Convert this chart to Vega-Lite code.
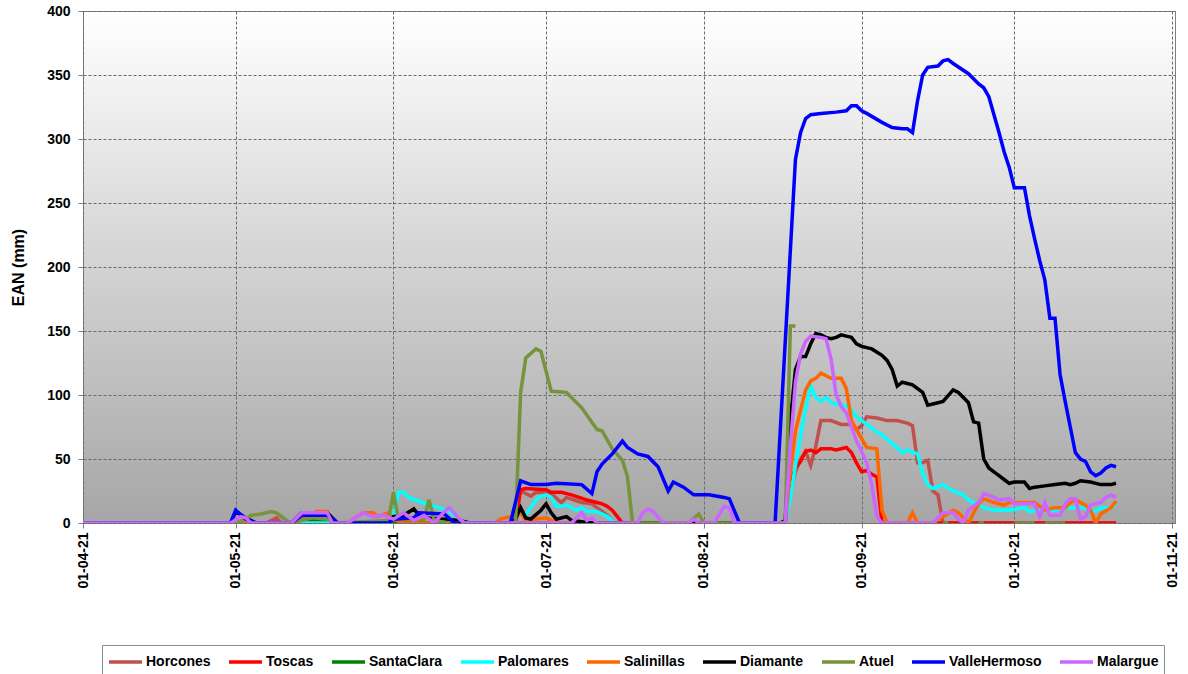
{
  "$schema": "https://vega.github.io/schema/vega-lite/v6.json",
  "width": 1092,
  "height": 512,
  "autosize": "none",
  "padding": {"left": 83, "top": 11, "right": 13, "bottom": 151},
  "background": "#ffffff",
  "datasets": {
    "ean": [
      {"s": "Horcones", "d": "2021-04-01", "v": 0}, {"s": "Horcones", "d": "2021-05-07", "v": 0}, {"s": "Horcones", "d": "2021-05-09", "v": 4}, {"s": "Horcones", "d": "2021-05-10", "v": 0},
      {"s": "Horcones", "d": "2021-06-24", "v": 0}, {"s": "Horcones", "d": "2021-06-25", "v": 15}, {"s": "Horcones", "d": "2021-06-26", "v": 25}, {"s": "Horcones", "d": "2021-06-27", "v": 23},
      {"s": "Horcones", "d": "2021-06-28", "v": 21}, {"s": "Horcones", "d": "2021-06-29", "v": 24}, {"s": "Horcones", "d": "2021-07-02", "v": 23}, {"s": "Horcones", "d": "2021-07-04", "v": 16},
      {"s": "Horcones", "d": "2021-07-05", "v": 20}, {"s": "Horcones", "d": "2021-07-08", "v": 16}, {"s": "Horcones", "d": "2021-07-10", "v": 15}, {"s": "Horcones", "d": "2021-07-11", "v": 12},
      {"s": "Horcones", "d": "2021-07-12", "v": 9}, {"s": "Horcones", "d": "2021-07-13", "v": 6}, {"s": "Horcones", "d": "2021-07-14", "v": 2}, {"s": "Horcones", "d": "2021-07-15", "v": 0},
      {"s": "Horcones", "d": "2021-08-17", "v": 0}, {"s": "Horcones", "d": "2021-08-18", "v": 25}, {"s": "Horcones", "d": "2021-08-19", "v": 40}, {"s": "Horcones", "d": "2021-08-20", "v": 50},
      {"s": "Horcones", "d": "2021-08-21", "v": 56}, {"s": "Horcones", "d": "2021-08-22", "v": 45}, {"s": "Horcones", "d": "2021-08-23", "v": 60}, {"s": "Horcones", "d": "2021-08-24", "v": 80},
      {"s": "Horcones", "d": "2021-08-26", "v": 80}, {"s": "Horcones", "d": "2021-08-28", "v": 77}, {"s": "Horcones", "d": "2021-08-30", "v": 77}, {"s": "Horcones", "d": "2021-08-31", "v": 73},
      {"s": "Horcones", "d": "2021-09-01", "v": 76}, {"s": "Horcones", "d": "2021-09-02", "v": 83}, {"s": "Horcones", "d": "2021-09-04", "v": 82}, {"s": "Horcones", "d": "2021-09-06", "v": 80},
      {"s": "Horcones", "d": "2021-09-08", "v": 80}, {"s": "Horcones", "d": "2021-09-09", "v": 79}, {"s": "Horcones", "d": "2021-09-10", "v": 78}, {"s": "Horcones", "d": "2021-09-11", "v": 76},
      {"s": "Horcones", "d": "2021-09-12", "v": 47}, {"s": "Horcones", "d": "2021-09-13", "v": 47}, {"s": "Horcones", "d": "2021-09-14", "v": 49}, {"s": "Horcones", "d": "2021-09-15", "v": 25},
      {"s": "Horcones", "d": "2021-09-16", "v": 22}, {"s": "Horcones", "d": "2021-09-17", "v": 0}, {"s": "Horcones", "d": "2021-10-21", "v": 0},

      {"s": "Toscas", "d": "2021-04-01", "v": 0}, {"s": "Toscas", "d": "2021-06-25", "v": 0}, {"s": "Toscas", "d": "2021-06-26", "v": 26}, {"s": "Toscas", "d": "2021-06-27", "v": 27},
      {"s": "Toscas", "d": "2021-07-01", "v": 26}, {"s": "Toscas", "d": "2021-07-02", "v": 24}, {"s": "Toscas", "d": "2021-07-04", "v": 24}, {"s": "Toscas", "d": "2021-07-06", "v": 22},
      {"s": "Toscas", "d": "2021-07-09", "v": 18}, {"s": "Toscas", "d": "2021-07-11", "v": 16}, {"s": "Toscas", "d": "2021-07-12", "v": 15}, {"s": "Toscas", "d": "2021-07-13", "v": 13},
      {"s": "Toscas", "d": "2021-07-14", "v": 10}, {"s": "Toscas", "d": "2021-07-15", "v": 5}, {"s": "Toscas", "d": "2021-07-16", "v": 0}, {"s": "Toscas", "d": "2021-08-17", "v": 0},
      {"s": "Toscas", "d": "2021-08-18", "v": 30}, {"s": "Toscas", "d": "2021-08-19", "v": 43}, {"s": "Toscas", "d": "2021-08-20", "v": 48}, {"s": "Toscas", "d": "2021-08-21", "v": 56},
      {"s": "Toscas", "d": "2021-08-22", "v": 57}, {"s": "Toscas", "d": "2021-08-23", "v": 55}, {"s": "Toscas", "d": "2021-08-24", "v": 58}, {"s": "Toscas", "d": "2021-08-26", "v": 58},
      {"s": "Toscas", "d": "2021-08-27", "v": 57}, {"s": "Toscas", "d": "2021-08-28", "v": 58}, {"s": "Toscas", "d": "2021-08-29", "v": 59}, {"s": "Toscas", "d": "2021-08-30", "v": 55},
      {"s": "Toscas", "d": "2021-08-31", "v": 47}, {"s": "Toscas", "d": "2021-09-01", "v": 40}, {"s": "Toscas", "d": "2021-09-02", "v": 41}, {"s": "Toscas", "d": "2021-09-03", "v": 38},
      {"s": "Toscas", "d": "2021-09-04", "v": 36}, {"s": "Toscas", "d": "2021-09-05", "v": 0}, {"s": "Toscas", "d": "2021-10-21", "v": 0},

      {"s": "SantaClara", "d": "2021-04-01", "v": 0}, {"s": "SantaClara", "d": "2021-05-12", "v": 0}, {"s": "SantaClara", "d": "2021-05-14", "v": 3}, {"s": "SantaClara", "d": "2021-05-17", "v": 3},
      {"s": "SantaClara", "d": "2021-05-19", "v": 2}, {"s": "SantaClara", "d": "2021-05-21", "v": 0}, {"s": "SantaClara", "d": "2021-08-15", "v": 0},

      {"s": "Palomares", "d": "2021-04-01", "v": 0}, {"s": "Palomares", "d": "2021-05-31", "v": 0}, {"s": "Palomares", "d": "2021-06-01", "v": 5}, {"s": "Palomares", "d": "2021-06-02", "v": 24},
      {"s": "Palomares", "d": "2021-06-03", "v": 24}, {"s": "Palomares", "d": "2021-06-04", "v": 20}, {"s": "Palomares", "d": "2021-06-06", "v": 17}, {"s": "Palomares", "d": "2021-06-08", "v": 14},
      {"s": "Palomares", "d": "2021-06-10", "v": 12}, {"s": "Palomares", "d": "2021-06-12", "v": 9}, {"s": "Palomares", "d": "2021-06-13", "v": 6}, {"s": "Palomares", "d": "2021-06-14", "v": 2},
      {"s": "Palomares", "d": "2021-06-15", "v": 0}, {"s": "Palomares", "d": "2021-06-24", "v": 0}, {"s": "Palomares", "d": "2021-06-25", "v": 8}, {"s": "Palomares", "d": "2021-06-27", "v": 6},
      {"s": "Palomares", "d": "2021-06-28", "v": 12}, {"s": "Palomares", "d": "2021-06-29", "v": 18}, {"s": "Palomares", "d": "2021-06-30", "v": 21}, {"s": "Palomares", "d": "2021-07-01", "v": 22},
      {"s": "Palomares", "d": "2021-07-02", "v": 20}, {"s": "Palomares", "d": "2021-07-03", "v": 13}, {"s": "Palomares", "d": "2021-07-04", "v": 13}, {"s": "Palomares", "d": "2021-07-05", "v": 14},
      {"s": "Palomares", "d": "2021-07-06", "v": 12}, {"s": "Palomares", "d": "2021-07-07", "v": 10}, {"s": "Palomares", "d": "2021-07-08", "v": 12}, {"s": "Palomares", "d": "2021-07-09", "v": 9},
      {"s": "Palomares", "d": "2021-07-11", "v": 9}, {"s": "Palomares", "d": "2021-07-13", "v": 5}, {"s": "Palomares", "d": "2021-07-14", "v": 2}, {"s": "Palomares", "d": "2021-07-15", "v": 0},
      {"s": "Palomares", "d": "2021-08-17", "v": 0}, {"s": "Palomares", "d": "2021-08-18", "v": 20}, {"s": "Palomares", "d": "2021-08-19", "v": 45}, {"s": "Palomares", "d": "2021-08-20", "v": 68},
      {"s": "Palomares", "d": "2021-08-21", "v": 90}, {"s": "Palomares", "d": "2021-08-22", "v": 107}, {"s": "Palomares", "d": "2021-08-23", "v": 98}, {"s": "Palomares", "d": "2021-08-24", "v": 95},
      {"s": "Palomares", "d": "2021-08-25", "v": 98}, {"s": "Palomares", "d": "2021-08-26", "v": 94}, {"s": "Palomares", "d": "2021-08-28", "v": 92}, {"s": "Palomares", "d": "2021-08-29", "v": 92},
      {"s": "Palomares", "d": "2021-08-30", "v": 88}, {"s": "Palomares", "d": "2021-08-31", "v": 83}, {"s": "Palomares", "d": "2021-09-02", "v": 77}, {"s": "Palomares", "d": "2021-09-04", "v": 71},
      {"s": "Palomares", "d": "2021-09-05", "v": 69}, {"s": "Palomares", "d": "2021-09-07", "v": 62}, {"s": "Palomares", "d": "2021-09-09", "v": 55}, {"s": "Palomares", "d": "2021-09-10", "v": 57},
      {"s": "Palomares", "d": "2021-09-12", "v": 54}, {"s": "Palomares", "d": "2021-09-13", "v": 39}, {"s": "Palomares", "d": "2021-09-14", "v": 30}, {"s": "Palomares", "d": "2021-09-15", "v": 27},
      {"s": "Palomares", "d": "2021-09-17", "v": 30}, {"s": "Palomares", "d": "2021-09-19", "v": 25}, {"s": "Palomares", "d": "2021-09-21", "v": 22}, {"s": "Palomares", "d": "2021-09-22", "v": 18},
      {"s": "Palomares", "d": "2021-09-23", "v": 16}, {"s": "Palomares", "d": "2021-09-25", "v": 12}, {"s": "Palomares", "d": "2021-09-27", "v": 10}, {"s": "Palomares", "d": "2021-09-30", "v": 10},
      {"s": "Palomares", "d": "2021-10-03", "v": 12}, {"s": "Palomares", "d": "2021-10-04", "v": 9}, {"s": "Palomares", "d": "2021-10-06", "v": 10}, {"s": "Palomares", "d": "2021-10-09", "v": 10},
      {"s": "Palomares", "d": "2021-10-11", "v": 12}, {"s": "Palomares", "d": "2021-10-13", "v": 12}, {"s": "Palomares", "d": "2021-10-15", "v": 12}, {"s": "Palomares", "d": "2021-10-16", "v": 8},
      {"s": "Palomares", "d": "2021-10-18", "v": 12}, {"s": "Palomares", "d": "2021-10-20", "v": 12}, {"s": "Palomares", "d": "2021-10-21", "v": 15},

      {"s": "Salinillas", "d": "2021-04-01", "v": 0}, {"s": "Salinillas", "d": "2021-05-12", "v": 0}, {"s": "Salinillas", "d": "2021-05-14", "v": 5}, {"s": "Salinillas", "d": "2021-05-17", "v": 9},
      {"s": "Salinillas", "d": "2021-05-19", "v": 9}, {"s": "Salinillas", "d": "2021-05-20", "v": 0}, {"s": "Salinillas", "d": "2021-05-23", "v": 0}, {"s": "Salinillas", "d": "2021-05-26", "v": 8},
      {"s": "Salinillas", "d": "2021-05-28", "v": 8}, {"s": "Salinillas", "d": "2021-05-29", "v": 5}, {"s": "Salinillas", "d": "2021-05-31", "v": 8}, {"s": "Salinillas", "d": "2021-06-01", "v": 3},
      {"s": "Salinillas", "d": "2021-06-03", "v": 0}, {"s": "Salinillas", "d": "2021-06-21", "v": 0}, {"s": "Salinillas", "d": "2021-06-22", "v": 3}, {"s": "Salinillas", "d": "2021-06-25", "v": 6},
      {"s": "Salinillas", "d": "2021-06-26", "v": 8}, {"s": "Salinillas", "d": "2021-06-27", "v": 2}, {"s": "Salinillas", "d": "2021-07-01", "v": 4}, {"s": "Salinillas", "d": "2021-07-03", "v": 0},
      {"s": "Salinillas", "d": "2021-08-17", "v": 0}, {"s": "Salinillas", "d": "2021-08-18", "v": 40}, {"s": "Salinillas", "d": "2021-08-19", "v": 72}, {"s": "Salinillas", "d": "2021-08-20", "v": 88},
      {"s": "Salinillas", "d": "2021-08-21", "v": 104}, {"s": "Salinillas", "d": "2021-08-22", "v": 111}, {"s": "Salinillas", "d": "2021-08-23", "v": 113}, {"s": "Salinillas", "d": "2021-08-24", "v": 117},
      {"s": "Salinillas", "d": "2021-08-25", "v": 115}, {"s": "Salinillas", "d": "2021-08-26", "v": 113}, {"s": "Salinillas", "d": "2021-08-28", "v": 113}, {"s": "Salinillas", "d": "2021-08-29", "v": 105},
      {"s": "Salinillas", "d": "2021-08-30", "v": 80}, {"s": "Salinillas", "d": "2021-08-31", "v": 73}, {"s": "Salinillas", "d": "2021-09-01", "v": 66}, {"s": "Salinillas", "d": "2021-09-02", "v": 59},
      {"s": "Salinillas", "d": "2021-09-04", "v": 58}, {"s": "Salinillas", "d": "2021-09-05", "v": 10}, {"s": "Salinillas", "d": "2021-09-06", "v": 0}, {"s": "Salinillas", "d": "2021-09-10", "v": 0},
      {"s": "Salinillas", "d": "2021-09-11", "v": 8}, {"s": "Salinillas", "d": "2021-09-12", "v": 0}, {"s": "Salinillas", "d": "2021-09-15", "v": 0}, {"s": "Salinillas", "d": "2021-09-17", "v": 5},
      {"s": "Salinillas", "d": "2021-09-19", "v": 10}, {"s": "Salinillas", "d": "2021-09-20", "v": 8}, {"s": "Salinillas", "d": "2021-09-22", "v": 0}, {"s": "Salinillas", "d": "2021-09-23", "v": 8},
      {"s": "Salinillas", "d": "2021-09-24", "v": 15}, {"s": "Salinillas", "d": "2021-09-25", "v": 19}, {"s": "Salinillas", "d": "2021-09-27", "v": 16}, {"s": "Salinillas", "d": "2021-09-29", "v": 14},
      {"s": "Salinillas", "d": "2021-09-30", "v": 16}, {"s": "Salinillas", "d": "2021-10-05", "v": 16}, {"s": "Salinillas", "d": "2021-10-07", "v": 10}, {"s": "Salinillas", "d": "2021-10-09", "v": 12},
      {"s": "Salinillas", "d": "2021-10-11", "v": 12}, {"s": "Salinillas", "d": "2021-10-12", "v": 16}, {"s": "Salinillas", "d": "2021-10-13", "v": 18}, {"s": "Salinillas", "d": "2021-10-14", "v": 16},
      {"s": "Salinillas", "d": "2021-10-15", "v": 14}, {"s": "Salinillas", "d": "2021-10-16", "v": 10}, {"s": "Salinillas", "d": "2021-10-17", "v": 0}, {"s": "Salinillas", "d": "2021-10-18", "v": 7},
      {"s": "Salinillas", "d": "2021-10-20", "v": 12}, {"s": "Salinillas", "d": "2021-10-21", "v": 17},

      {"s": "Diamante", "d": "2021-04-01", "v": 0}, {"s": "Diamante", "d": "2021-04-30", "v": 0}, {"s": "Diamante", "d": "2021-05-01", "v": 9}, {"s": "Diamante", "d": "2021-05-03", "v": 4},
      {"s": "Diamante", "d": "2021-05-05", "v": 0}, {"s": "Diamante", "d": "2021-05-12", "v": 0}, {"s": "Diamante", "d": "2021-05-14", "v": 8}, {"s": "Diamante", "d": "2021-05-19", "v": 8},
      {"s": "Diamante", "d": "2021-05-21", "v": 0}, {"s": "Diamante", "d": "2021-05-31", "v": 0}, {"s": "Diamante", "d": "2021-06-01", "v": 5}, {"s": "Diamante", "d": "2021-06-03", "v": 6},
      {"s": "Diamante", "d": "2021-06-05", "v": 11}, {"s": "Diamante", "d": "2021-06-06", "v": 6}, {"s": "Diamante", "d": "2021-06-08", "v": 4}, {"s": "Diamante", "d": "2021-06-14", "v": 2},
      {"s": "Diamante", "d": "2021-06-16", "v": 0}, {"s": "Diamante", "d": "2021-06-24", "v": 0}, {"s": "Diamante", "d": "2021-06-25", "v": 3}, {"s": "Diamante", "d": "2021-06-26", "v": 12},
      {"s": "Diamante", "d": "2021-06-27", "v": 4}, {"s": "Diamante", "d": "2021-06-28", "v": 3}, {"s": "Diamante", "d": "2021-06-30", "v": 10}, {"s": "Diamante", "d": "2021-07-01", "v": 15},
      {"s": "Diamante", "d": "2021-07-02", "v": 8}, {"s": "Diamante", "d": "2021-07-03", "v": 3}, {"s": "Diamante", "d": "2021-07-05", "v": 5}, {"s": "Diamante", "d": "2021-07-06", "v": 2},
      {"s": "Diamante", "d": "2021-07-08", "v": 1}, {"s": "Diamante", "d": "2021-07-10", "v": 0}, {"s": "Diamante", "d": "2021-08-16", "v": 0}, {"s": "Diamante", "d": "2021-08-17", "v": 2},
      {"s": "Diamante", "d": "2021-08-18", "v": 80}, {"s": "Diamante", "d": "2021-08-19", "v": 120}, {"s": "Diamante", "d": "2021-08-20", "v": 130}, {"s": "Diamante", "d": "2021-08-21", "v": 130},
      {"s": "Diamante", "d": "2021-08-22", "v": 140}, {"s": "Diamante", "d": "2021-08-23", "v": 148}, {"s": "Diamante", "d": "2021-08-24", "v": 147}, {"s": "Diamante", "d": "2021-08-25", "v": 145},
      {"s": "Diamante", "d": "2021-08-26", "v": 144}, {"s": "Diamante", "d": "2021-08-27", "v": 145}, {"s": "Diamante", "d": "2021-08-28", "v": 147}, {"s": "Diamante", "d": "2021-08-29", "v": 146},
      {"s": "Diamante", "d": "2021-08-30", "v": 145}, {"s": "Diamante", "d": "2021-08-31", "v": 140}, {"s": "Diamante", "d": "2021-09-01", "v": 138}, {"s": "Diamante", "d": "2021-09-03", "v": 136},
      {"s": "Diamante", "d": "2021-09-05", "v": 131}, {"s": "Diamante", "d": "2021-09-06", "v": 127}, {"s": "Diamante", "d": "2021-09-07", "v": 120}, {"s": "Diamante", "d": "2021-09-08", "v": 107},
      {"s": "Diamante", "d": "2021-09-09", "v": 110}, {"s": "Diamante", "d": "2021-09-11", "v": 108}, {"s": "Diamante", "d": "2021-09-13", "v": 102}, {"s": "Diamante", "d": "2021-09-14", "v": 92},
      {"s": "Diamante", "d": "2021-09-15", "v": 93}, {"s": "Diamante", "d": "2021-09-17", "v": 95}, {"s": "Diamante", "d": "2021-09-19", "v": 104}, {"s": "Diamante", "d": "2021-09-20", "v": 102},
      {"s": "Diamante", "d": "2021-09-21", "v": 98}, {"s": "Diamante", "d": "2021-09-22", "v": 94}, {"s": "Diamante", "d": "2021-09-23", "v": 79}, {"s": "Diamante", "d": "2021-09-24", "v": 78},
      {"s": "Diamante", "d": "2021-09-25", "v": 50}, {"s": "Diamante", "d": "2021-09-26", "v": 43}, {"s": "Diamante", "d": "2021-09-27", "v": 40}, {"s": "Diamante", "d": "2021-09-28", "v": 37},
      {"s": "Diamante", "d": "2021-09-29", "v": 34}, {"s": "Diamante", "d": "2021-09-30", "v": 31}, {"s": "Diamante", "d": "2021-10-01", "v": 32}, {"s": "Diamante", "d": "2021-10-03", "v": 32},
      {"s": "Diamante", "d": "2021-10-04", "v": 27}, {"s": "Diamante", "d": "2021-10-05", "v": 28}, {"s": "Diamante", "d": "2021-10-07", "v": 29}, {"s": "Diamante", "d": "2021-10-09", "v": 30},
      {"s": "Diamante", "d": "2021-10-11", "v": 31}, {"s": "Diamante", "d": "2021-10-12", "v": 30}, {"s": "Diamante", "d": "2021-10-13", "v": 31}, {"s": "Diamante", "d": "2021-10-14", "v": 33},
      {"s": "Diamante", "d": "2021-10-16", "v": 32}, {"s": "Diamante", "d": "2021-10-18", "v": 30}, {"s": "Diamante", "d": "2021-10-20", "v": 30}, {"s": "Diamante", "d": "2021-10-21", "v": 31},

      {"s": "Atuel", "d": "2021-04-01", "v": 0}, {"s": "Atuel", "d": "2021-05-01", "v": 0}, {"s": "Atuel", "d": "2021-05-03", "v": 3}, {"s": "Atuel", "d": "2021-05-04", "v": 6},
      {"s": "Atuel", "d": "2021-05-06", "v": 7}, {"s": "Atuel", "d": "2021-05-08", "v": 9}, {"s": "Atuel", "d": "2021-05-09", "v": 8}, {"s": "Atuel", "d": "2021-05-11", "v": 2},
      {"s": "Atuel", "d": "2021-05-12", "v": 0}, {"s": "Atuel", "d": "2021-05-16", "v": 4}, {"s": "Atuel", "d": "2021-05-19", "v": 3}, {"s": "Atuel", "d": "2021-05-21", "v": 0},
      {"s": "Atuel", "d": "2021-05-31", "v": 2}, {"s": "Atuel", "d": "2021-06-01", "v": 24}, {"s": "Atuel", "d": "2021-06-02", "v": 3}, {"s": "Atuel", "d": "2021-06-07", "v": 3},
      {"s": "Atuel", "d": "2021-06-08", "v": 18}, {"s": "Atuel", "d": "2021-06-09", "v": 2}, {"s": "Atuel", "d": "2021-06-12", "v": 0}, {"s": "Atuel", "d": "2021-06-25", "v": 0},
      {"s": "Atuel", "d": "2021-06-26", "v": 102}, {"s": "Atuel", "d": "2021-06-27", "v": 129}, {"s": "Atuel", "d": "2021-06-29", "v": 136}, {"s": "Atuel", "d": "2021-06-30", "v": 134},
      {"s": "Atuel", "d": "2021-07-02", "v": 103}, {"s": "Atuel", "d": "2021-07-05", "v": 102}, {"s": "Atuel", "d": "2021-07-08", "v": 90}, {"s": "Atuel", "d": "2021-07-11", "v": 73},
      {"s": "Atuel", "d": "2021-07-12", "v": 72}, {"s": "Atuel", "d": "2021-07-14", "v": 58}, {"s": "Atuel", "d": "2021-07-16", "v": 49}, {"s": "Atuel", "d": "2021-07-17", "v": 36},
      {"s": "Atuel", "d": "2021-07-18", "v": 0}, {"s": "Atuel", "d": "2021-07-29", "v": 0}, {"s": "Atuel", "d": "2021-07-31", "v": 7}, {"s": "Atuel", "d": "2021-08-01", "v": 0},
      {"s": "Atuel", "d": "2021-08-17", "v": 0}, {"s": "Atuel", "d": "2021-08-18", "v": 154}, {"s": "Atuel", "d": "2021-08-19", "v": 154}, {"s": "Atuel", "d": "2021-08-20", "v": null},
      {"s": "Atuel", "d": "2021-09-17", "v": 0}, {"s": "Atuel", "d": "2021-09-18", "v": 0}, {"s": "Atuel", "d": "2021-09-19", "v": null}, {"s": "Atuel", "d": "2021-09-24", "v": 0},
      {"s": "Atuel", "d": "2021-09-25", "v": 0}, {"s": "Atuel", "d": "2021-09-26", "v": null}, {"s": "Atuel", "d": "2021-10-01", "v": 0}, {"s": "Atuel", "d": "2021-10-05", "v": 0},
      {"s": "Atuel", "d": "2021-10-06", "v": null}, {"s": "Atuel", "d": "2021-10-07", "v": 0}, {"s": "Atuel", "d": "2021-10-11", "v": 0},

      {"s": "ValleHermoso", "d": "2021-04-01", "v": 0}, {"s": "ValleHermoso", "d": "2021-04-30", "v": 0}, {"s": "ValleHermoso", "d": "2021-05-01", "v": 10}, {"s": "ValleHermoso", "d": "2021-05-03", "v": 3},
      {"s": "ValleHermoso", "d": "2021-05-05", "v": 0}, {"s": "ValleHermoso", "d": "2021-05-12", "v": 0}, {"s": "ValleHermoso", "d": "2021-05-14", "v": 6}, {"s": "ValleHermoso", "d": "2021-05-19", "v": 6},
      {"s": "ValleHermoso", "d": "2021-05-21", "v": 0}, {"s": "ValleHermoso", "d": "2021-05-31", "v": 0}, {"s": "ValleHermoso", "d": "2021-06-01", "v": 3}, {"s": "ValleHermoso", "d": "2021-06-05", "v": 4},
      {"s": "ValleHermoso", "d": "2021-06-06", "v": 8}, {"s": "ValleHermoso", "d": "2021-06-11", "v": 7}, {"s": "ValleHermoso", "d": "2021-06-13", "v": 0}, {"s": "ValleHermoso", "d": "2021-06-24", "v": 0},
      {"s": "ValleHermoso", "d": "2021-06-26", "v": 33}, {"s": "ValleHermoso", "d": "2021-06-28", "v": 30}, {"s": "ValleHermoso", "d": "2021-07-01", "v": 30}, {"s": "ValleHermoso", "d": "2021-07-03", "v": 31},
      {"s": "ValleHermoso", "d": "2021-07-08", "v": 30}, {"s": "ValleHermoso", "d": "2021-07-10", "v": 23}, {"s": "ValleHermoso", "d": "2021-07-11", "v": 40}, {"s": "ValleHermoso", "d": "2021-07-12", "v": 46},
      {"s": "ValleHermoso", "d": "2021-07-14", "v": 54}, {"s": "ValleHermoso", "d": "2021-07-16", "v": 64}, {"s": "ValleHermoso", "d": "2021-07-17", "v": 59}, {"s": "ValleHermoso", "d": "2021-07-19", "v": 54},
      {"s": "ValleHermoso", "d": "2021-07-21", "v": 52}, {"s": "ValleHermoso", "d": "2021-07-23", "v": 44}, {"s": "ValleHermoso", "d": "2021-07-25", "v": 25}, {"s": "ValleHermoso", "d": "2021-07-26", "v": 32},
      {"s": "ValleHermoso", "d": "2021-07-28", "v": 28}, {"s": "ValleHermoso", "d": "2021-07-30", "v": 22}, {"s": "ValleHermoso", "d": "2021-08-02", "v": 22}, {"s": "ValleHermoso", "d": "2021-08-05", "v": 20},
      {"s": "ValleHermoso", "d": "2021-08-06", "v": 19}, {"s": "ValleHermoso", "d": "2021-08-08", "v": 0}, {"s": "ValleHermoso", "d": "2021-08-15", "v": 0}, {"s": "ValleHermoso", "d": "2021-08-19", "v": 284},
      {"s": "ValleHermoso", "d": "2021-08-20", "v": 305}, {"s": "ValleHermoso", "d": "2021-08-21", "v": 316}, {"s": "ValleHermoso", "d": "2021-08-22", "v": 319}, {"s": "ValleHermoso", "d": "2021-08-24", "v": 320},
      {"s": "ValleHermoso", "d": "2021-08-27", "v": 321}, {"s": "ValleHermoso", "d": "2021-08-29", "v": 322}, {"s": "ValleHermoso", "d": "2021-08-30", "v": 326}, {"s": "ValleHermoso", "d": "2021-08-31", "v": 326},
      {"s": "ValleHermoso", "d": "2021-09-01", "v": 322}, {"s": "ValleHermoso", "d": "2021-09-02", "v": 320}, {"s": "ValleHermoso", "d": "2021-09-05", "v": 313}, {"s": "ValleHermoso", "d": "2021-09-07", "v": 309},
      {"s": "ValleHermoso", "d": "2021-09-09", "v": 308}, {"s": "ValleHermoso", "d": "2021-09-10", "v": 308}, {"s": "ValleHermoso", "d": "2021-09-11", "v": 305}, {"s": "ValleHermoso", "d": "2021-09-12", "v": 330},
      {"s": "ValleHermoso", "d": "2021-09-13", "v": 350}, {"s": "ValleHermoso", "d": "2021-09-14", "v": 356}, {"s": "ValleHermoso", "d": "2021-09-16", "v": 357}, {"s": "ValleHermoso", "d": "2021-09-17", "v": 361},
      {"s": "ValleHermoso", "d": "2021-09-18", "v": 362}, {"s": "ValleHermoso", "d": "2021-09-19", "v": 359}, {"s": "ValleHermoso", "d": "2021-09-22", "v": 351}, {"s": "ValleHermoso", "d": "2021-09-24", "v": 343},
      {"s": "ValleHermoso", "d": "2021-09-25", "v": 340}, {"s": "ValleHermoso", "d": "2021-09-26", "v": 333}, {"s": "ValleHermoso", "d": "2021-09-28", "v": 305}, {"s": "ValleHermoso", "d": "2021-09-29", "v": 290},
      {"s": "ValleHermoso", "d": "2021-09-30", "v": 278}, {"s": "ValleHermoso", "d": "2021-10-01", "v": 262}, {"s": "ValleHermoso", "d": "2021-10-03", "v": 262}, {"s": "ValleHermoso", "d": "2021-10-04", "v": 240},
      {"s": "ValleHermoso", "d": "2021-10-05", "v": 222}, {"s": "ValleHermoso", "d": "2021-10-06", "v": 205}, {"s": "ValleHermoso", "d": "2021-10-07", "v": 190}, {"s": "ValleHermoso", "d": "2021-10-08", "v": 160},
      {"s": "ValleHermoso", "d": "2021-10-09", "v": 160}, {"s": "ValleHermoso", "d": "2021-10-10", "v": 116}, {"s": "ValleHermoso", "d": "2021-10-11", "v": 95}, {"s": "ValleHermoso", "d": "2021-10-12", "v": 75},
      {"s": "ValleHermoso", "d": "2021-10-13", "v": 55}, {"s": "ValleHermoso", "d": "2021-10-14", "v": 50}, {"s": "ValleHermoso", "d": "2021-10-15", "v": 48}, {"s": "ValleHermoso", "d": "2021-10-16", "v": 40},
      {"s": "ValleHermoso", "d": "2021-10-17", "v": 37}, {"s": "ValleHermoso", "d": "2021-10-18", "v": 39}, {"s": "ValleHermoso", "d": "2021-10-19", "v": 43}, {"s": "ValleHermoso", "d": "2021-10-20", "v": 45},
      {"s": "ValleHermoso", "d": "2021-10-21", "v": 44},

      {"s": "Malargue", "d": "2021-04-01", "v": 0}, {"s": "Malargue", "d": "2021-04-30", "v": 0}, {"s": "Malargue", "d": "2021-05-02", "v": 5}, {"s": "Malargue", "d": "2021-05-03", "v": 4},
      {"s": "Malargue", "d": "2021-05-04", "v": 0}, {"s": "Malargue", "d": "2021-05-12", "v": 0}, {"s": "Malargue", "d": "2021-05-14", "v": 8}, {"s": "Malargue", "d": "2021-05-17", "v": 8},
      {"s": "Malargue", "d": "2021-05-19", "v": 8}, {"s": "Malargue", "d": "2021-05-20", "v": 0}, {"s": "Malargue", "d": "2021-05-23", "v": 0}, {"s": "Malargue", "d": "2021-05-26", "v": 8},
      {"s": "Malargue", "d": "2021-05-28", "v": 5}, {"s": "Malargue", "d": "2021-05-30", "v": 6}, {"s": "Malargue", "d": "2021-06-01", "v": 3}, {"s": "Malargue", "d": "2021-06-03", "v": 8},
      {"s": "Malargue", "d": "2021-06-05", "v": 2}, {"s": "Malargue", "d": "2021-06-07", "v": 6}, {"s": "Malargue", "d": "2021-06-09", "v": 0}, {"s": "Malargue", "d": "2021-06-11", "v": 9},
      {"s": "Malargue", "d": "2021-06-12", "v": 12}, {"s": "Malargue", "d": "2021-06-14", "v": 3}, {"s": "Malargue", "d": "2021-06-15", "v": 0}, {"s": "Malargue", "d": "2021-07-06", "v": 0},
      {"s": "Malargue", "d": "2021-07-08", "v": 8}, {"s": "Malargue", "d": "2021-07-09", "v": 2}, {"s": "Malargue", "d": "2021-07-10", "v": 4}, {"s": "Malargue", "d": "2021-07-11", "v": 0},
      {"s": "Malargue", "d": "2021-07-19", "v": 0}, {"s": "Malargue", "d": "2021-07-20", "v": 8}, {"s": "Malargue", "d": "2021-07-21", "v": 11}, {"s": "Malargue", "d": "2021-07-22", "v": 9},
      {"s": "Malargue", "d": "2021-07-24", "v": 0}, {"s": "Malargue", "d": "2021-07-29", "v": 0}, {"s": "Malargue", "d": "2021-07-30", "v": 3}, {"s": "Malargue", "d": "2021-07-31", "v": 0},
      {"s": "Malargue", "d": "2021-08-03", "v": 0}, {"s": "Malargue", "d": "2021-08-05", "v": 13}, {"s": "Malargue", "d": "2021-08-06", "v": 12}, {"s": "Malargue", "d": "2021-08-07", "v": 0},
      {"s": "Malargue", "d": "2021-08-17", "v": 0}, {"s": "Malargue", "d": "2021-08-18", "v": 60}, {"s": "Malargue", "d": "2021-08-19", "v": 110}, {"s": "Malargue", "d": "2021-08-20", "v": 132},
      {"s": "Malargue", "d": "2021-08-21", "v": 142}, {"s": "Malargue", "d": "2021-08-22", "v": 146}, {"s": "Malargue", "d": "2021-08-24", "v": 145}, {"s": "Malargue", "d": "2021-08-25", "v": 144},
      {"s": "Malargue", "d": "2021-08-26", "v": 128}, {"s": "Malargue", "d": "2021-08-27", "v": 100}, {"s": "Malargue", "d": "2021-08-28", "v": 91}, {"s": "Malargue", "d": "2021-08-29", "v": 86},
      {"s": "Malargue", "d": "2021-08-30", "v": 75}, {"s": "Malargue", "d": "2021-08-31", "v": 64}, {"s": "Malargue", "d": "2021-09-01", "v": 56}, {"s": "Malargue", "d": "2021-09-02", "v": 47},
      {"s": "Malargue", "d": "2021-09-03", "v": 30}, {"s": "Malargue", "d": "2021-09-04", "v": 5}, {"s": "Malargue", "d": "2021-09-05", "v": 0}, {"s": "Malargue", "d": "2021-09-15", "v": 0},
      {"s": "Malargue", "d": "2021-09-17", "v": 8}, {"s": "Malargue", "d": "2021-09-19", "v": 8}, {"s": "Malargue", "d": "2021-09-20", "v": 3}, {"s": "Malargue", "d": "2021-09-21", "v": 0},
      {"s": "Malargue", "d": "2021-09-22", "v": 10}, {"s": "Malargue", "d": "2021-09-24", "v": 16}, {"s": "Malargue", "d": "2021-09-25", "v": 23}, {"s": "Malargue", "d": "2021-09-27", "v": 20},
      {"s": "Malargue", "d": "2021-09-28", "v": 18}, {"s": "Malargue", "d": "2021-09-30", "v": 19}, {"s": "Malargue", "d": "2021-10-01", "v": 15}, {"s": "Malargue", "d": "2021-10-05", "v": 15},
      {"s": "Malargue", "d": "2021-10-06", "v": 5}, {"s": "Malargue", "d": "2021-10-07", "v": 16}, {"s": "Malargue", "d": "2021-10-08", "v": 6}, {"s": "Malargue", "d": "2021-10-10", "v": 6},
      {"s": "Malargue", "d": "2021-10-11", "v": 15}, {"s": "Malargue", "d": "2021-10-12", "v": 19}, {"s": "Malargue", "d": "2021-10-13", "v": 19}, {"s": "Malargue", "d": "2021-10-14", "v": 3},
      {"s": "Malargue", "d": "2021-10-15", "v": 5}, {"s": "Malargue", "d": "2021-10-16", "v": 14}, {"s": "Malargue", "d": "2021-10-18", "v": 16}, {"s": "Malargue", "d": "2021-10-19", "v": 20},
      {"s": "Malargue", "d": "2021-10-20", "v": 22}, {"s": "Malargue", "d": "2021-10-21", "v": 20}
    ]
  },
  "data": {"name": "ean"},
  "encoding": {
    "x": {
      "field": "d",
      "type": "temporal",
      "title": null,
      "scale": {
        "type": "utc",
        "domain": [
          {"year": 2021, "month": 4, "date": 1, "utc": true},
          {"year": 2021, "month": 11, "date": 1, "hours": 14, "utc": true}
        ]
      },
      "axis": {
        "values": [
          {"year": 2021, "month": 4, "date": 1, "utc": true},
          {"year": 2021, "month": 5, "date": 1, "utc": true},
          {"year": 2021, "month": 6, "date": 1, "utc": true},
          {"year": 2021, "month": 7, "date": 1, "utc": true},
          {"year": 2021, "month": 8, "date": 1, "utc": true},
          {"year": 2021, "month": 9, "date": 1, "utc": true},
          {"year": 2021, "month": 10, "date": 1, "utc": true},
          {"year": 2021, "month": 11, "date": 1, "utc": true}
        ],
        "labelExpr": "utcFormat(datum.value, '%d-%m-%y')",
        "labelAngle": -90,
        "labelPadding": 4,
        "labelOverlap": false,
        "labelFlush": false
      }
    },
    "y": {
      "field": "v",
      "type": "quantitative",
      "title": "EAN (mm)",
      "scale": {"domain": [0, 400], "nice": false, "zero": true},
      "axis": {"values": [0, 50, 100, 150, 200, 250, 300, 350, 400], "labelPadding": 8, "titlePadding": 20}
    },
    "color": {
      "field": "s",
      "type": "nominal",
      "title": null,
      "sort": ["Horcones", "Toscas", "SantaClara", "Palomares", "Salinillas", "Diamante", "Atuel", "ValleHermoso", "Malargue"],
      "scale": {
        "domain": ["Horcones", "Toscas", "SantaClara", "Palomares", "Salinillas", "Diamante", "Atuel", "ValleHermoso", "Malargue"],
        "range": ["#c0504d", "#ff0000", "#008000", "#00ffff", "#ff6600", "#000000", "#77933c", "#0000ff", "#cc66ff"]
      },
      "legend": {
        "orient": "none",
        "direction": "horizontal",
        "columns": 9,
        "legendX": 19,
        "legendY": 634,
        "symbolType": "M-1,0H2.3",
        "symbolSize": 400,
        "symbolStrokeWidth": 4,
        "labelOffset": 15,
        "columnPadding": 11,
        "padding": 5,
        "strokeColor": "#8c8c8c",
        "fillColor": "#ffffff",
        "labelFont": "Liberation Sans",
        "labelFontWeight": "bold",
        "labelFontSize": 14,
        "labelColor": "#000000"
      }
    }
  },
  "layer": [
    {"transform": [{"filter": "datum.s == 'Horcones'"}], "mark": {"type": "line", "clip": true}},
    {"transform": [{"filter": "datum.s == 'Toscas'"}], "mark": {"type": "line", "clip": true}},
    {"transform": [{"filter": "datum.s == 'SantaClara'"}], "mark": {"type": "line", "clip": true}},
    {"transform": [{"filter": "datum.s == 'Palomares'"}], "mark": {"type": "line", "clip": true}},
    {"transform": [{"filter": "datum.s == 'Salinillas'"}], "mark": {"type": "line", "clip": true}},
    {"transform": [{"filter": "datum.s == 'Diamante'"}], "mark": {"type": "line", "clip": true}},
    {"transform": [{"filter": "datum.s == 'Atuel'"}], "mark": {"type": "line", "clip": true}},
    {"transform": [{"filter": "datum.s == 'ValleHermoso'"}], "mark": {"type": "line", "clip": true}},
    {"transform": [{"filter": "datum.s == 'Malargue'"}], "mark": {"type": "line", "clip": true}}
  ],
  "config": {
    "line": {"strokeWidth": 3.5, "invalid": "break-paths-filter-domains"},
    "view": {
      "stroke": "#808080",
      "strokeWidth": 1,
      "fill": {
        "gradient": "linear",
        "x1": 0, "y1": 0, "x2": 0, "y2": 1,
        "stops": [
          {"offset": 0, "color": "#ffffff"},
          {"offset": 1, "color": "#a6a6a6"}
        ]
      }
    },
    "axis": {
      "labelFont": "Liberation Sans",
      "labelFontWeight": "bold",
      "labelFontSize": 14,
      "labelColor": "#000000",
      "titleFont": "Liberation Sans",
      "titleFontWeight": "bold",
      "titleFontSize": 16,
      "titleColor": "#000000",
      "domain": false,
      "tickColor": "#808080",
      "tickSize": 5,
      "grid": true,
      "gridColor": "#6a6a6a",
      "gridDash": [3, 2],
      "gridWidth": 1
    }
  }
}
